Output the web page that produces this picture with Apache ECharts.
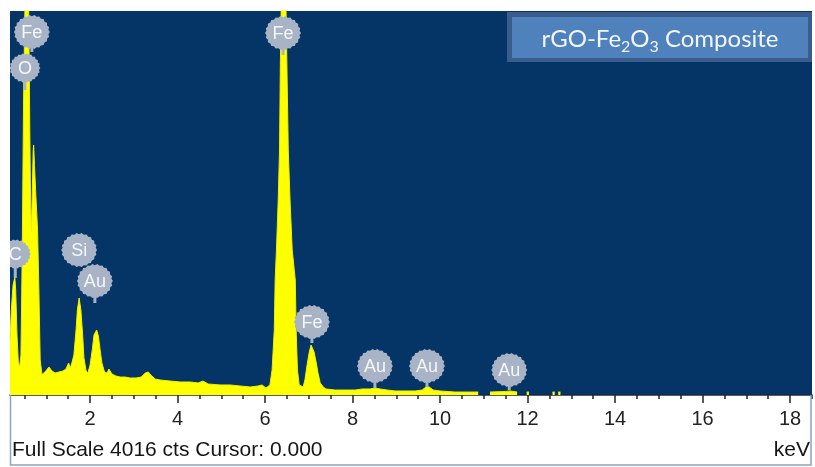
<!DOCTYPE html>
<html><head><meta charset="utf-8">
<script src="https://cdn.jsdelivr.net/npm/echarts@6/dist/echarts.min.js"></script>
<style>html,body{margin:0;padding:0;background:#fff}#c{width:815px;height:467px}</style>
</head><body><div id="c"></div>
<script>
// EDS spectrum (energy in keV, counts)
const spectrumKeV = [0.17,0.20,0.24,0.28,0.30,0.33,0.36,0.39,0.42,0.45,0.48,0.50,0.52,0.55,0.58,0.60,0.62,0.64,0.66,0.68,0.70,0.71,0.73,0.76,0.80,0.83,0.86,0.90,
  0.97,1.06,1.13,1.20,1.29,1.38,1.45,1.51,1.55,1.59,1.63,1.68,1.71,1.75,1.79,1.83,1.86,1.91,1.95,2.00,2.05,2.09,2.15,2.19,2.23,2.27,2.33,2.39,2.43,2.50,
  2.59,2.69,2.80,2.91,3.05,3.17,3.26,3.33,3.39,3.49,3.60,3.83,4.06,4.29,4.47,4.58,4.70,4.97,5.20,5.43,5.66,5.84,5.93,6.02,
  6.11,6.16,6.21,6.23,6.26,6.30,6.33,6.35,6.38,6.41,6.46,6.49,6.53,6.57,6.62,6.69,6.71,6.74,6.78,
  6.87,6.91,6.96,7.01,7.05,7.09,7.12,7.17,7.21,7.26,7.33,7.39,7.60,7.83,8.06,8.22,8.40,8.51,8.63,8.79,8.97,9.20,9.43,9.59,9.68,9.75,9.84,
  10.00,10.34,10.69,10.87,10.90,11.14,11.49,11.60,11.76,11.80,11.98,12.03,12.05,12.57,12.62,12.64,12.70,12.75];
const spectrumCounts = [575,889,1150,1234,1098,628,345,293,418,1517,3086,3700,4300,5000,4500,3900,2876,2040,1705,2144,2563,2615,2400,2092,1726,1098,366,215,
  241,293,251,230,241,251,272,335,282,345,418,680,889,1015,889,628,387,251,230,314,471,628,680,617,471,335,241,230,272,220,
  199,188,188,178,178,188,230,241,209,167,157,146,136,136,126,146,115,105,105,94,84,94,105,73,
  105,261,680,1203,1517,2040,2563,3500,4400,5000,4600,3700,2563,2040,1517,1203,680,261,105,
  84,157,314,450,523,520,450,335,230,126,84,63,52,52,52,63,63,73,63,52,42,42,42,52,84,84,52,
  42,31,31,31,null,31,37,42,31,null,31,31,null,31,31,null,31,31];
const fullScale = 4016;
const majorTicks = [2,4,6,8,10,12,14,16,18];
const minorTicks = [0.5,1,1.5,2,2.5,3,3.5,4,4.5,5,5.5,6,6.5,7,7.5,8,8.5,9,9.5,10,10.5,11,11.5,12,12.5,13,13.5,14,14.5,15,15.5,16,16.5,17,17.5,18,18.5];
// element markers: name, energy, marker height (counts), stem end (counts)
const labelNames = ['Fe','O','C','Si','Au','Fe','Fe','Au','Au','Au'];
const labelKeV = [0.67,0.51,0.29,1.75,2.11,6.41,7.07,8.51,9.70,11.58];
const labelCounts = [3796,3420,1475,1516,1192,3786,763,303,303,261];
const stemEndCounts = [3587,3190,1224,1349,962,3556,544,73,84,52];

const chart = echarts.init(document.getElementById('c'));
const spectrum = spectrumKeV.map((e,i)=>[e, spectrumCounts[i]]);
const markers = labelKeV.map((e,i)=>({value:[e, labelCounts[i], stemEndCounts[i]], name:labelNames[i]}));
const markerColor = '#a8b3c5';

function renderMarker(params, api){
  const name = labelNames[params.dataIndex];
  const c = api.coord([api.value(0), api.value(1)]);
  const s = api.coord([api.value(0), api.value(2)]);
  const r = name.length > 1 ? 18 : 15.5;
  const pts = [];
  const N = 44;
  for (let k=0;k<N;k++){
    const a = k/N*Math.PI*2;
    const rr = (k%2===0) ? r : r-1.3;
    pts.push([c[0]+rr*Math.cos(a), c[1]+rr*Math.sin(a)*0.95]);
  }
  return {type:'group', children:[
    {type:'line', shape:{x1:c[0],y1:c[1],x2:s[0],y2:s[1]}, style:{stroke:markerColor, lineWidth:3}},
    {type:'polygon', shape:{points:pts}, style:{fill:markerColor}},
    {type:'text', x:c[0], y:c[1]+1, style:{text:name, fill:'#f5f7fb', fontSize:18, fontFamily:'Liberation Sans', align:'center', verticalAlign:'middle'}}
  ]};
}

const option = {
  animation:false,
  grid:{left:10,right:3,top:11,bottom:72,show:true,backgroundColor:'#053466',borderWidth:0},
  xAxis:[
    {type:'value',min:0.17,max:18.5,position:'bottom',
     axisLine:{show:true,lineStyle:{color:'#1b2740',width:1.5}},
     axisTick:{show:true,customValues:minorTicks,length:4,lineStyle:{color:'#222',width:1.5}},
     axisLabel:{show:false},splitLine:{show:false}},
    {type:'value',min:0.17,max:18.5,position:'bottom',
     axisLine:{show:false},
     axisTick:{show:true,customValues:majorTicks,length:8,lineStyle:{color:'#222',width:1.5}},
     axisLabel:{customValues:majorTicks,fontSize:20,color:'#222',margin:14,fontFamily:'Liberation Sans'},
     splitLine:{show:false}}
  ],
  yAxis:{type:'value',min:0,max:fullScale,show:false},
  series:[
    {type:'line',data:spectrum,xAxisIndex:0,symbol:'none',clip:true,z:2,
     lineStyle:{color:'#f0f000',width:1},areaStyle:{color:'#ffff00',opacity:1}},
    {type:'custom',xAxisIndex:0,data:markers,renderItem:renderMarker,clip:true,z:5}
  ],
  graphic:[
    {type:'polyline',shape:{points:[[10.5,395],[10.5,465],[811,465],[811,395]]},style:{fill:null,stroke:'#8fa4be',lineWidth:1.5},z:10},
    {type:'text',left:12,top:440,style:{text:'Full Scale '+fullScale+' cts Cursor: 0.000',fontSize:21,fill:'#151515',fontFamily:'Liberation Sans'},z:10},
    {type:'text',right:5,top:440,style:{text:'keV',fontSize:21,fill:'#151515',fontFamily:'Liberation Sans'},z:10},
    {type:'rect',shape:{x:507,y:12,width:305,height:50},style:{fill:'#3a5d8e'},z:20},
    {type:'rect',shape:{x:512,y:17,width:296,height:41},style:{fill:'#4f81bd'},z:21},
    {type:'text',x:660,y:41,z:22,style:{
      text:'{a|rGO-Fe}{s|2}{a|O}{s|3}{a| Composite}',align:'center',verticalAlign:'middle',
      rich:{a:{fontSize:24,fill:'#f2f5fa',fontFamily:'Lato',verticalAlign:'top'},
            s:{fontSize:16,fill:'#f2f5fa',fontFamily:'Lato',verticalAlign:'top',padding:[11,0,0,0]}}}}
  ]
};
chart.setOption(option);
</script></body></html>
